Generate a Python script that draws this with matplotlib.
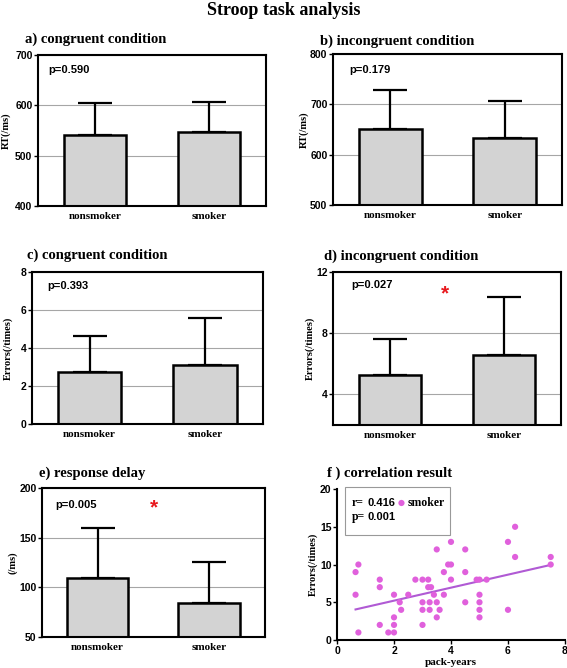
import numpy as np
import matplotlib.pyplot as plt
from matplotlib.patches import Rectangle

groups = ["nonsmoker", "smoker"]

# bar panels: mean and SD per group
rt_congruent_mean = [542, 548]
rt_congruent_sd = [62, 59]
rt_incongruent_mean = [652, 633]
rt_incongruent_sd = [77, 74]
err_congruent_mean = [2.75, 3.1]
err_congruent_sd = [1.9, 2.5]
err_incongruent_mean = [5.27, 6.55]
err_incongruent_sd = [2.37, 3.82]
delay_mean = [109, 84.5]
delay_sd = [51, 41]

p_values = ["p=0.590", "p=0.179", "p=0.393", "p=0.027", "p=0.005"]

# correlation panel (smokers)
pack_years = [0.65, 0.65, 0.75, 0.75, 1.5, 1.5, 1.5, 1.8, 2, 2, 2, 2, 2.2, 2.25,
              2.5, 2.75, 3, 3, 3, 3, 3.2, 3.2, 3.3, 3.25, 3.25, 3.4, 3.5, 3.5,
              3.5, 3.6, 3.75, 3.75, 3.9, 4, 4, 4, 4.5, 4.5, 4.5, 4.9, 5, 5, 5,
              5, 5, 5.25, 6, 6, 6.25, 6.25, 7.5, 7.5]
errors = [9, 6, 10, 1, 8, 7, 2, 1, 6, 3, 2, 1, 5, 4,
          6, 8, 8, 5, 4, 2, 8, 7, 7, 5, 4, 6, 12, 5,
          3, 4, 9, 6, 10, 10, 13, 8, 12, 9, 5, 8, 8, 6, 5,
          4, 3, 8, 13, 4, 15, 11, 11, 10]
fit_x = [0.65, 7.5]
fit_y = [4.05, 9.95]

SERIF = "Liberation Serif"
SANS = "Liberation Sans"

fig = plt.figure(figsize=(5.67, 6.68), dpi=100)
fig.text(0.5, 0.984, "Stroop task analysis", ha="center", va="center",
         family=SERIF, weight="bold", fontsize=13)


def style_axes(ax, title, tpos, ylabel, lab_x):
    for s in ax.spines.values():
        s.set_linewidth(1.5)
    ax.text(tpos[0], tpos[1], title, transform=ax.transAxes, ha="left",
            va="center", family=SERIF, weight="bold", fontsize=10.5)
    ax.set_ylabel(ylabel, family=SERIF, weight="bold", fontsize=7.5, va="center")
    ax.yaxis.set_label_coords(lab_x, 0.5)
    ax.tick_params(axis="y", length=3, width=1, pad=1)
    for t in ax.get_yticklabels():
        t.set_family(SANS)
        t.set_weight("bold")
        t.set_fontsize(7.5)


def bar_panel(rect, title, tpos, means, sds, ylim, yticks, ylabel, lab_x,
              ptext, ppos, star=None):
    ax = fig.add_axes(rect)
    x = np.arange(len(groups))
    ax.set_axisbelow(True)
    ax.yaxis.grid(True, color="#a6a6a6", lw=0.8)
    ax.bar(x, means, width=0.55, color="#d3d3d3", edgecolor="black",
           linewidth=1.8, zorder=2)
    ax.errorbar(x, means, yerr=[np.zeros(len(sds)), sds], fmt="none",
                ecolor="black", elinewidth=1.6, capsize=12, capthick=1.6,
                zorder=1)
    ax.set_xlim(-0.5, 1.5)
    ax.set_ylim(*ylim)
    ax.set_yticks(yticks)
    ax.set_xticks(x)
    ax.set_xticklabels(groups, family=SERIF, weight="bold", fontsize=8)
    ax.tick_params(axis="x", length=0, pad=4)
    style_axes(ax, title, tpos, ylabel, lab_x)
    ax.text(ppos[0], ppos[1], ptext, transform=ax.transAxes, ha="left",
            va="center", family=SANS, weight="bold", fontsize=8)
    if star is not None:
        ax.text(star[0], star[1], "*", color="#e8191e", ha="center",
                va="center", fontsize=15, family=SANS, weight="bold")
    return ax


bar_panel([0.067, 0.6916, 0.402, 0.226], "a) congruent condition", (-0.057, 1.106),
          rt_congruent_mean, rt_congruent_sd, (400, 700), [400, 500, 600, 700],
          "RT(/ms)", -0.14, p_values[0], (0.045, 0.9))
bar_panel([0.5873, 0.693, 0.404, 0.226], "b) incongruent condition", (-0.058, 1.088),
          rt_incongruent_mean, rt_incongruent_sd, (500, 800), [500, 600, 700, 800],
          "RT(/ms)", -0.127, p_values[1], (0.07, 0.895))
bar_panel([0.0559, 0.3653, 0.408, 0.2275], "c) congruent condition", (-0.02, 1.107),
          err_congruent_mean, err_congruent_sd, (0, 8), [0, 2, 4, 6, 8],
          "Errors(/times)", -0.102, p_values[2], (0.066, 0.91))
bar_panel([0.5873, 0.3638, 0.402, 0.229], "d) incongruent condition", (-0.041, 1.105),
          err_incongruent_mean, err_incongruent_sd, (2, 12), [4, 8, 12],
          "Errors(/times)", -0.10, p_values[3], (0.08, 0.915), star=(0.48, 10.6))
bar_panel([0.074, 0.0464, 0.393, 0.223], "e) response delay", (-0.013, 1.10),
          delay_mean, delay_sd, (50, 200), [50, 100, 150, 200],
          "(/ms)", -0.13, p_values[4], (0.058, 0.885), star=(0.507, 180))

# f) correlation
ax = fig.add_axes([0.5944, 0.0419, 0.402, 0.226])
ax.scatter(pack_years, errors, s=20, color="#e060dc", edgecolors="none",
           zorder=3, label="smoker")
ax.plot(fit_x, fit_y, color="#b05ad4", lw=1.5, zorder=2)
ax.set_xlim(0, 8)
ax.set_ylim(0, 20)
ax.set_xticks([0, 2, 4, 6, 8])
ax.set_yticks([0, 5, 10, 15, 20])
ax.spines["top"].set_visible(False)
ax.spines["right"].set_visible(False)
style_axes(ax, "f ) correlation result", (-0.045, 1.106), "Errors(/times)", -0.105)
ax.tick_params(axis="x", length=3, width=1, pad=1)
for t in ax.get_xticklabels():
    t.set_family(SANS)
    t.set_weight("bold")
    t.set_fontsize(7.5)
ax.set_xlabel("pack-years", family=SERIF, weight="bold", fontsize=8, labelpad=2)

ax.add_patch(Rectangle((0.035, 0.695), 0.461, 0.318, transform=ax.transAxes,
                       fill=False, edgecolor="#999999", lw=0.8, clip_on=False))
ax.text(0.066, 0.907, "r=", transform=ax.transAxes, ha="left", va="center",
        family=SERIF, weight="bold", fontsize=8.5)
ax.text(0.135, 0.907, "0.416", transform=ax.transAxes, ha="left", va="center",
        family=SANS, weight="bold", fontsize=8)
ax.text(0.066, 0.817, "p=", transform=ax.transAxes, ha="left", va="center",
        family=SERIF, weight="bold", fontsize=8.5)
ax.text(0.135, 0.817, "0.001", transform=ax.transAxes, ha="left", va="center",
        family=SANS, weight="bold", fontsize=8)
ax.legend(loc="center left", bbox_to_anchor=(0.262, 0.907), frameon=False,
          handletextpad=0.1, borderpad=0, borderaxespad=0, handlelength=0.8,
          prop={"family": SERIF, "weight": "bold", "size": 8.5})

fig.savefig("out.png", dpi=100, facecolor="white")
